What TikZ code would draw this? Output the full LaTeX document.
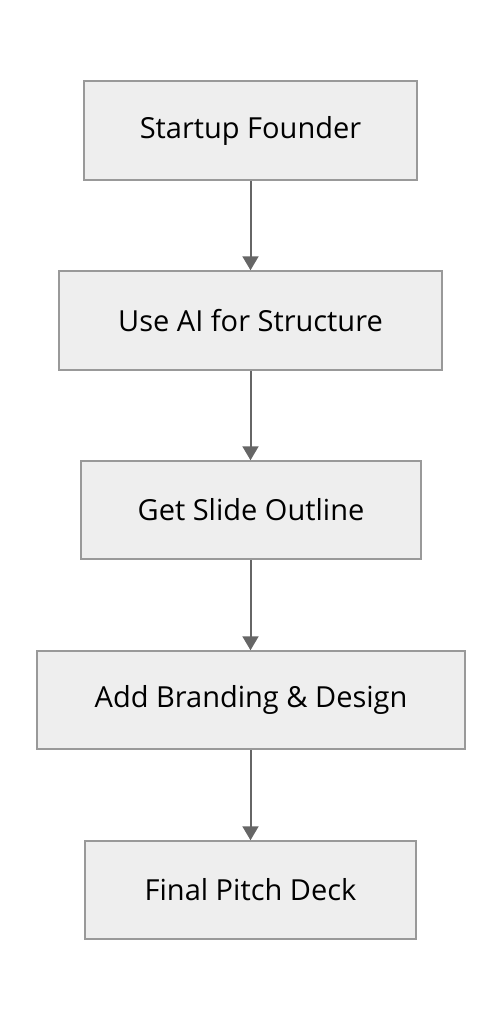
\documentclass[tikz,border=0pt]{standalone}
\usepackage{fontspec}
\setmainfont{Open Sans}
\usetikzlibrary{arrows.meta}
\definecolor{boxfill}{HTML}{EEEEEE}
\definecolor{boxline}{HTML}{999999}
\definecolor{arrowc}{HTML}{666666}
\tikzset{
  stepbox/.style={draw=boxline, fill=boxfill, line width=1.5pt, inner sep=0pt,
    font=\fontsize{29}{34}\selectfont, text=black},
  flowarrow/.style={draw=arrowc, line width=2pt, -{Triangle[length=14pt,width=16pt]}}
}
\begin{document}
\begin{tikzpicture}[x=1pt,y=-1pt]
\useasboundingbox (0,0) rectangle (502,1020);
\node[stepbox, minimum width=333pt, minimum height=99pt] (a) at (250.5,130.5) {Startup Founder};
\node[stepbox, minimum width=383pt, minimum height=99pt] (b) at (250.5,320.5) {Use AI for Structure};
\node[stepbox, minimum width=340pt, minimum height=98pt] (c) at (251,510) {Get Slide Outline};
\node[stepbox, minimum width=428pt, minimum height=98pt] (d) at (251,700) {Add Branding \& Design};
\node[stepbox, minimum width=331pt, minimum height=98pt] (e) at (250.5,890) {Final Pitch Deck};
\draw[flowarrow] (a.south -| 250.5,0) -- (b.north -| 250.5,0);
\draw[flowarrow] (b.south -| 250.5,0) -- (c.north -| 250.5,0);
\draw[flowarrow] (c.south -| 250.5,0) -- (d.north -| 250.5,0);
\draw[flowarrow] (d.south -| 250.5,0) -- (e.north -| 250.5,0);
\end{tikzpicture}
\end{document}
